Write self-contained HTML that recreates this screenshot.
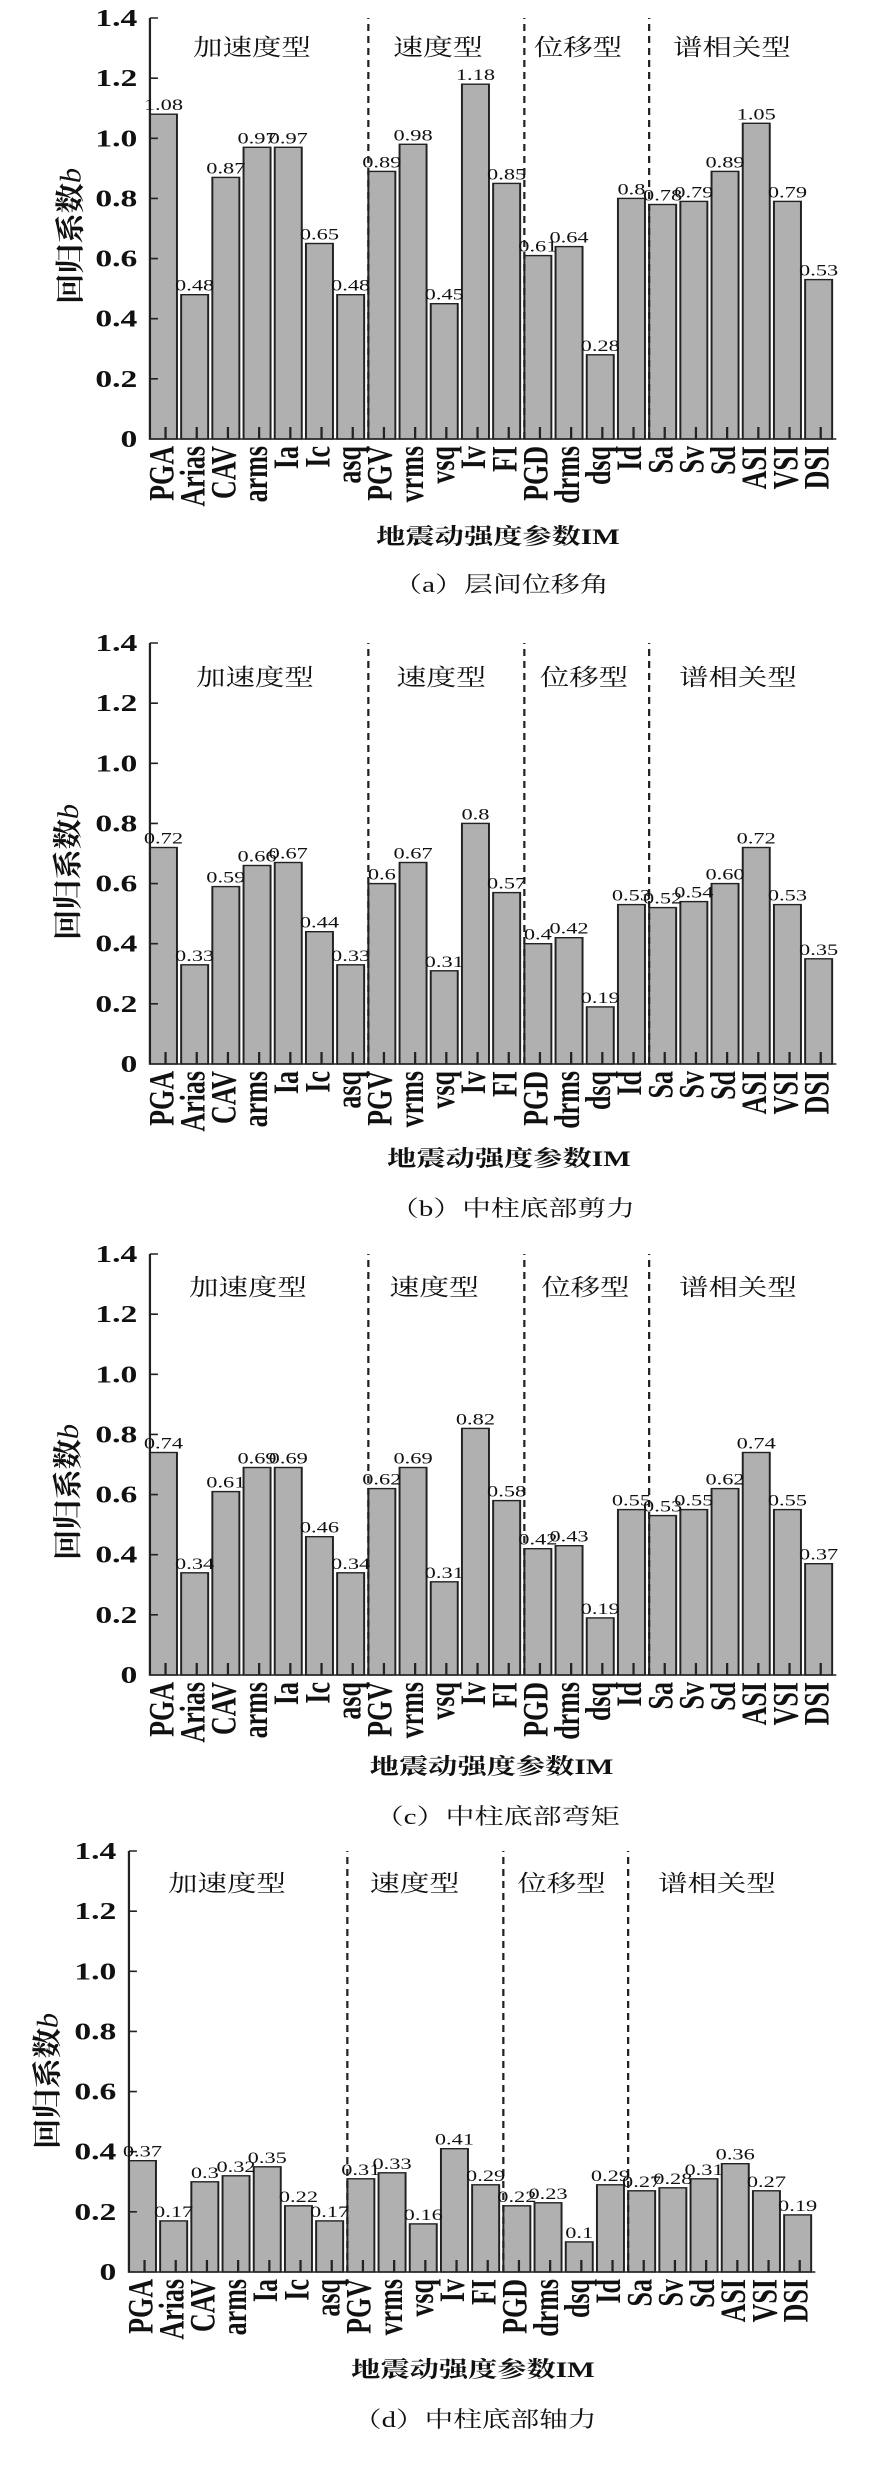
<!DOCTYPE html>
<html><head><meta charset="utf-8"><style>
html,body{margin:0;padding:0;background:#fff;}
svg{display:block;}
.t{font-family:"Liberation Serif",serif;font-size:24px;font-weight:bold;fill:#111;text-anchor:end;}
.v{font-family:"Liberation Serif",serif;font-size:16px;fill:#111;text-anchor:middle;}
.x{font-family:"Liberation Serif",serif;font-size:26px;font-weight:bold;fill:#111;text-anchor:end;}
.g{font-family:"Liberation Serif","Noto Serif CJK SC",serif;font-size:23px;fill:#111;text-anchor:middle;}
.yt{font-family:"Liberation Serif","Noto Serif CJK SC",serif;font-size:21px;font-weight:bold;fill:#111;text-anchor:middle;}
.xl{font-family:"Liberation Serif","Noto Serif CJK SC",serif;font-size:22px;font-weight:bold;fill:#111;text-anchor:middle;}
.cp{font-family:"Liberation Serif","Noto Serif CJK SC",serif;font-size:22px;fill:#111;text-anchor:middle;}
.b rect{fill:#b0b0b0;stroke:#222;stroke-width:1.4;}
.ax{stroke:#222;stroke-width:1.6;fill:none;}
.ds{stroke:#222;stroke-width:1.6;stroke-dasharray:7,5;fill:none;}
</style></head><body>
<svg width="870" height="2465" viewBox="0 0 621.43 2465" preserveAspectRatio="none" xmlns="http://www.w3.org/2000/svg">

<!-- Panel A -->
<g transform="translate(107.1,439)">
<g class="b">
<rect x="0" y="-324.8" width="19.3" height="324.8"/><rect x="22.29" y="-144.3" width="19.3" height="144.3"/><rect x="44.57" y="-261.6" width="19.3" height="261.6"/><rect x="66.86" y="-291.7" width="19.3" height="291.7"/><rect x="89.14" y="-291.7" width="19.3" height="291.7"/><rect x="111.43" y="-195.5" width="19.3" height="195.5"/><rect x="133.71" y="-144.3" width="19.3" height="144.3"/><rect x="156" y="-267.6" width="19.3" height="267.6"/><rect x="178.29" y="-294.7" width="19.3" height="294.7"/><rect x="200.57" y="-135.3" width="19.3" height="135.3"/><rect x="222.86" y="-354.8" width="19.3" height="354.8"/><rect x="245.14" y="-255.6" width="19.3" height="255.6"/><rect x="267.43" y="-183.4" width="19.3" height="183.4"/><rect x="289.71" y="-192.4" width="19.3" height="192.4"/><rect x="312" y="-84.2" width="19.3" height="84.2"/><rect x="334.29" y="-240.6" width="19.3" height="240.6"/><rect x="356.57" y="-234.5" width="19.3" height="234.5"/><rect x="378.86" y="-237.6" width="19.3" height="237.6"/><rect x="401.14" y="-267.6" width="19.3" height="267.6"/><rect x="423.43" y="-315.7" width="19.3" height="315.7"/><rect x="445.71" y="-237.6" width="19.3" height="237.6"/><rect x="468" y="-159.4" width="19.3" height="159.4"/>
</g>
<path class="ax" d="M0,-421V0H490.3 M0,-60.14h5.7M0,-120.29h5.7M0,-180.43h5.7M0,-240.57h5.7M0,-300.71h5.7M0,-360.86h5.7M0,-421h5.7 M11.14,0v-12M33.43,0v-12M55.71,0v-12M78,0v-12M100.29,0v-12M122.57,0v-12M144.86,0v-12M167.14,0v-12M189.43,0v-12M211.71,0v-12M234,0v-12M256.29,0v-12M278.57,0v-12M300.86,0v-12M323.14,0v-12M345.43,0v-12M367.71,0v-12M390,0v-12M412.29,0v-12M434.57,0v-12M456.86,0v-12M479.14,0v-12"/>
<path class="ds" d="M156,0V-421M267.43,0V-421M356.57,0V-421"/>
<text class="t" x="-9" y="8">0</text><text class="t" x="-9" y="-52.1">0.2</text><text class="t" x="-9" y="-112.3">0.4</text><text class="t" x="-9" y="-172.4">0.6</text><text class="t" x="-9" y="-232.6">0.8</text><text class="t" x="-9" y="-292.7">1.0</text><text class="t" x="-9" y="-352.9">1.2</text><text class="t" x="-9" y="-413">1.4</text>
<text class="v" x="9.65" y="-328.8">1.08</text><text class="v" x="31.94" y="-148.3">0.48</text><text class="v" x="54.22" y="-265.6">0.87</text><text class="v" x="76.51" y="-295.7">0.97</text><text class="v" x="98.79" y="-295.7">0.97</text><text class="v" x="121.08" y="-199.5">0.65</text><text class="v" x="143.36" y="-148.3">0.48</text><text class="v" x="165.65" y="-271.6">0.89</text><text class="v" x="187.94" y="-298.7">0.98</text><text class="v" x="210.22" y="-139.3">0.45</text><text class="v" x="232.51" y="-358.8">1.18</text><text class="v" x="254.79" y="-259.6">0.85</text><text class="v" x="277.08" y="-187.4">0.61</text><text class="v" x="299.36" y="-196.4">0.64</text><text class="v" x="321.65" y="-88.2">0.28</text><text class="v" x="343.94" y="-244.6">0.8</text><text class="v" x="366.22" y="-238.5">0.78</text><text class="v" x="388.51" y="-241.6">0.79</text><text class="v" x="410.79" y="-271.6">0.89</text><text class="v" x="433.08" y="-319.7">1.05</text><text class="v" x="455.36" y="-241.6">0.79</text><text class="v" x="477.65" y="-163.4">0.53</text>
<text class="x" transform="translate(16.7,7) rotate(-90)">PGA</text><text class="x" transform="translate(38.9,7) rotate(-90)">Arias</text><text class="x" transform="translate(61.2,7) rotate(-90)">CAV</text><text class="x" transform="translate(83.5,7) rotate(-90)">arms</text><text class="x" transform="translate(105.8,7) rotate(-90)">Ia</text><text class="x" transform="translate(128.1,7) rotate(-90)">Ic</text><text class="x" transform="translate(150.4,7) rotate(-90)">asq</text><text class="x" transform="translate(172.7,7) rotate(-90)">PGV</text><text class="x" transform="translate(194.9,7) rotate(-90)">vrms</text><text class="x" transform="translate(217.2,7) rotate(-90)">vsq</text><text class="x" transform="translate(239.5,7) rotate(-90)">Iv</text><text class="x" transform="translate(261.8,7) rotate(-90)">FI</text><text class="x" transform="translate(284.1,7) rotate(-90)">PGD</text><text class="x" transform="translate(306.4,7) rotate(-90)">drms</text><text class="x" transform="translate(328.7,7) rotate(-90)">dsq</text><text class="x" transform="translate(350.9,7) rotate(-90)">Id</text><text class="x" transform="translate(373.2,7) rotate(-90)">Sa</text><text class="x" transform="translate(395.5,7) rotate(-90)">Sv</text><text class="x" transform="translate(417.8,7) rotate(-90)">Sd</text><text class="x" transform="translate(440.1,7) rotate(-90)">ASI</text><text class="x" transform="translate(462.4,7) rotate(-90)">VSI</text><text class="x" transform="translate(484.7,7) rotate(-90)">DSI</text>
<text class="g" x="72.9" y="-384" textLength="84" lengthAdjust="spacingAndGlyphs">加速度型</text><text class="g" x="205.7" y="-384" textLength="64" lengthAdjust="spacingAndGlyphs">速度型</text><text class="g" x="305.7" y="-384" textLength="63" lengthAdjust="spacingAndGlyphs">位移型</text><text class="g" x="415.7" y="-384" textLength="84" lengthAdjust="spacingAndGlyphs">谱相关型</text>
<text class="yt" transform="translate(-49.5,-203) rotate(-90)" textLength="136" lengthAdjust="spacingAndGlyphs">回归系数<tspan font-style="italic" font-weight="normal">b</tspan></text>
<text class="xl" x="248.6" y="105" textLength="174" lengthAdjust="spacingAndGlyphs">地震动强度参数IM</text>
<text class="cp" x="250.7" y="153" textLength="154" lengthAdjust="spacingAndGlyphs">（a）层间位移角</text>
</g>

<!-- Panel B -->
<g transform="translate(107.1,1064)">
<g class="b">
<rect x="0" y="-216.5" width="19.3" height="216.5"/><rect x="22.29" y="-99.2" width="19.3" height="99.2"/><rect x="44.57" y="-177.4" width="19.3" height="177.4"/><rect x="66.86" y="-198.5" width="19.3" height="198.5"/><rect x="89.14" y="-201.5" width="19.3" height="201.5"/><rect x="111.43" y="-132.3" width="19.3" height="132.3"/><rect x="133.71" y="-99.2" width="19.3" height="99.2"/><rect x="156" y="-180.4" width="19.3" height="180.4"/><rect x="178.29" y="-201.5" width="19.3" height="201.5"/><rect x="200.57" y="-93.2" width="19.3" height="93.2"/><rect x="222.86" y="-240.6" width="19.3" height="240.6"/><rect x="245.14" y="-171.4" width="19.3" height="171.4"/><rect x="267.43" y="-120.3" width="19.3" height="120.3"/><rect x="289.71" y="-126.3" width="19.3" height="126.3"/><rect x="312" y="-57.1" width="19.3" height="57.1"/><rect x="334.29" y="-159.4" width="19.3" height="159.4"/><rect x="356.57" y="-156.4" width="19.3" height="156.4"/><rect x="378.86" y="-162.4" width="19.3" height="162.4"/><rect x="401.14" y="-180.4" width="19.3" height="180.4"/><rect x="423.43" y="-216.5" width="19.3" height="216.5"/><rect x="445.71" y="-159.4" width="19.3" height="159.4"/><rect x="468" y="-105.2" width="19.3" height="105.2"/>
</g>
<path class="ax" d="M0,-421V0H490.3 M0,-60.14h5.7M0,-120.29h5.7M0,-180.43h5.7M0,-240.57h5.7M0,-300.71h5.7M0,-360.86h5.7M0,-421h5.7 M11.14,0v-12M33.43,0v-12M55.71,0v-12M78,0v-12M100.29,0v-12M122.57,0v-12M144.86,0v-12M167.14,0v-12M189.43,0v-12M211.71,0v-12M234,0v-12M256.29,0v-12M278.57,0v-12M300.86,0v-12M323.14,0v-12M345.43,0v-12M367.71,0v-12M390,0v-12M412.29,0v-12M434.57,0v-12M456.86,0v-12M479.14,0v-12"/>
<path class="ds" d="M156,0V-421M267.43,0V-421M356.57,0V-421"/>
<text class="t" x="-9" y="8">0</text><text class="t" x="-9" y="-52.1">0.2</text><text class="t" x="-9" y="-112.3">0.4</text><text class="t" x="-9" y="-172.4">0.6</text><text class="t" x="-9" y="-232.6">0.8</text><text class="t" x="-9" y="-292.7">1.0</text><text class="t" x="-9" y="-352.9">1.2</text><text class="t" x="-9" y="-413">1.4</text>
<text class="v" x="9.65" y="-220.5">0.72</text><text class="v" x="31.94" y="-103.2">0.33</text><text class="v" x="54.22" y="-181.4">0.59</text><text class="v" x="76.51" y="-202.5">0.66</text><text class="v" x="98.79" y="-205.5">0.67</text><text class="v" x="121.08" y="-136.3">0.44</text><text class="v" x="143.36" y="-103.2">0.33</text><text class="v" x="165.65" y="-184.4">0.6</text><text class="v" x="187.94" y="-205.5">0.67</text><text class="v" x="210.22" y="-97.2">0.31</text><text class="v" x="232.51" y="-244.6">0.8</text><text class="v" x="254.79" y="-175.4">0.57</text><text class="v" x="277.08" y="-124.3">0.4</text><text class="v" x="299.36" y="-130.3">0.42</text><text class="v" x="321.65" y="-61.1">0.19</text><text class="v" x="343.94" y="-163.4">0.53</text><text class="v" x="366.22" y="-160.4">0.52</text><text class="v" x="388.51" y="-166.4">0.54</text><text class="v" x="410.79" y="-184.4">0.60</text><text class="v" x="433.08" y="-220.5">0.72</text><text class="v" x="455.36" y="-163.4">0.53</text><text class="v" x="477.65" y="-109.2">0.35</text>
<text class="x" transform="translate(16.7,7) rotate(-90)">PGA</text><text class="x" transform="translate(38.9,7) rotate(-90)">Arias</text><text class="x" transform="translate(61.2,7) rotate(-90)">CAV</text><text class="x" transform="translate(83.5,7) rotate(-90)">arms</text><text class="x" transform="translate(105.8,7) rotate(-90)">Ia</text><text class="x" transform="translate(128.1,7) rotate(-90)">Ic</text><text class="x" transform="translate(150.4,7) rotate(-90)">asq</text><text class="x" transform="translate(172.7,7) rotate(-90)">PGV</text><text class="x" transform="translate(194.9,7) rotate(-90)">vrms</text><text class="x" transform="translate(217.2,7) rotate(-90)">vsq</text><text class="x" transform="translate(239.5,7) rotate(-90)">Iv</text><text class="x" transform="translate(261.8,7) rotate(-90)">FI</text><text class="x" transform="translate(284.1,7) rotate(-90)">PGD</text><text class="x" transform="translate(306.4,7) rotate(-90)">drms</text><text class="x" transform="translate(328.7,7) rotate(-90)">dsq</text><text class="x" transform="translate(350.9,7) rotate(-90)">Id</text><text class="x" transform="translate(373.2,7) rotate(-90)">Sa</text><text class="x" transform="translate(395.5,7) rotate(-90)">Sv</text><text class="x" transform="translate(417.8,7) rotate(-90)">Sd</text><text class="x" transform="translate(440.1,7) rotate(-90)">ASI</text><text class="x" transform="translate(462.4,7) rotate(-90)">VSI</text><text class="x" transform="translate(484.7,7) rotate(-90)">DSI</text>
<text class="g" x="75" y="-379" textLength="84" lengthAdjust="spacingAndGlyphs">加速度型</text><text class="g" x="208" y="-379" textLength="64" lengthAdjust="spacingAndGlyphs">速度型</text><text class="g" x="310" y="-379" textLength="63" lengthAdjust="spacingAndGlyphs">位移型</text><text class="g" x="420" y="-379" textLength="84" lengthAdjust="spacingAndGlyphs">谱相关型</text>
<text class="yt" transform="translate(-51.5,-192) rotate(-90)" textLength="136" lengthAdjust="spacingAndGlyphs">回归系数<tspan font-style="italic" font-weight="normal">b</tspan></text>
<text class="xl" x="256.4" y="102" textLength="174" lengthAdjust="spacingAndGlyphs">地震动强度参数IM</text>
<text class="cp" x="259" y="152" textLength="175" lengthAdjust="spacingAndGlyphs">（b）中柱底部剪力</text>
</g>

<!-- Panel C -->
<g transform="translate(107.1,1675)">
<g class="b">
<rect x="0" y="-222.5" width="19.3" height="222.5"/><rect x="22.29" y="-102.2" width="19.3" height="102.2"/><rect x="44.57" y="-183.4" width="19.3" height="183.4"/><rect x="66.86" y="-207.5" width="19.3" height="207.5"/><rect x="89.14" y="-207.5" width="19.3" height="207.5"/><rect x="111.43" y="-138.3" width="19.3" height="138.3"/><rect x="133.71" y="-102.2" width="19.3" height="102.2"/><rect x="156" y="-186.4" width="19.3" height="186.4"/><rect x="178.29" y="-207.5" width="19.3" height="207.5"/><rect x="200.57" y="-93.2" width="19.3" height="93.2"/><rect x="222.86" y="-246.6" width="19.3" height="246.6"/><rect x="245.14" y="-174.4" width="19.3" height="174.4"/><rect x="267.43" y="-126.3" width="19.3" height="126.3"/><rect x="289.71" y="-129.3" width="19.3" height="129.3"/><rect x="312" y="-57.1" width="19.3" height="57.1"/><rect x="334.29" y="-165.4" width="19.3" height="165.4"/><rect x="356.57" y="-159.4" width="19.3" height="159.4"/><rect x="378.86" y="-165.4" width="19.3" height="165.4"/><rect x="401.14" y="-186.4" width="19.3" height="186.4"/><rect x="423.43" y="-222.5" width="19.3" height="222.5"/><rect x="445.71" y="-165.4" width="19.3" height="165.4"/><rect x="468" y="-111.3" width="19.3" height="111.3"/>
</g>
<path class="ax" d="M0,-421V0H490.3 M0,-60.14h5.7M0,-120.29h5.7M0,-180.43h5.7M0,-240.57h5.7M0,-300.71h5.7M0,-360.86h5.7M0,-421h5.7 M11.14,0v-12M33.43,0v-12M55.71,0v-12M78,0v-12M100.29,0v-12M122.57,0v-12M144.86,0v-12M167.14,0v-12M189.43,0v-12M211.71,0v-12M234,0v-12M256.29,0v-12M278.57,0v-12M300.86,0v-12M323.14,0v-12M345.43,0v-12M367.71,0v-12M390,0v-12M412.29,0v-12M434.57,0v-12M456.86,0v-12M479.14,0v-12"/>
<path class="ds" d="M156,0V-421M267.43,0V-421M356.57,0V-421"/>
<text class="t" x="-9" y="8">0</text><text class="t" x="-9" y="-52.1">0.2</text><text class="t" x="-9" y="-112.3">0.4</text><text class="t" x="-9" y="-172.4">0.6</text><text class="t" x="-9" y="-232.6">0.8</text><text class="t" x="-9" y="-292.7">1.0</text><text class="t" x="-9" y="-352.9">1.2</text><text class="t" x="-9" y="-413">1.4</text>
<text class="v" x="9.65" y="-226.5">0.74</text><text class="v" x="31.94" y="-106.2">0.34</text><text class="v" x="54.22" y="-187.4">0.61</text><text class="v" x="76.51" y="-211.5">0.69</text><text class="v" x="98.79" y="-211.5">0.69</text><text class="v" x="121.08" y="-142.3">0.46</text><text class="v" x="143.36" y="-106.2">0.34</text><text class="v" x="165.65" y="-190.4">0.62</text><text class="v" x="187.94" y="-211.5">0.69</text><text class="v" x="210.22" y="-97.2">0.31</text><text class="v" x="232.51" y="-250.6">0.82</text><text class="v" x="254.79" y="-178.4">0.58</text><text class="v" x="277.08" y="-130.3">0.42</text><text class="v" x="299.36" y="-133.3">0.43</text><text class="v" x="321.65" y="-61.1">0.19</text><text class="v" x="343.94" y="-169.4">0.55</text><text class="v" x="366.22" y="-163.4">0.53</text><text class="v" x="388.51" y="-169.4">0.55</text><text class="v" x="410.79" y="-190.4">0.62</text><text class="v" x="433.08" y="-226.5">0.74</text><text class="v" x="455.36" y="-169.4">0.55</text><text class="v" x="477.65" y="-115.3">0.37</text>
<text class="x" transform="translate(16.7,7) rotate(-90)">PGA</text><text class="x" transform="translate(38.9,7) rotate(-90)">Arias</text><text class="x" transform="translate(61.2,7) rotate(-90)">CAV</text><text class="x" transform="translate(83.5,7) rotate(-90)">arms</text><text class="x" transform="translate(105.8,7) rotate(-90)">Ia</text><text class="x" transform="translate(128.1,7) rotate(-90)">Ic</text><text class="x" transform="translate(150.4,7) rotate(-90)">asq</text><text class="x" transform="translate(172.7,7) rotate(-90)">PGV</text><text class="x" transform="translate(194.9,7) rotate(-90)">vrms</text><text class="x" transform="translate(217.2,7) rotate(-90)">vsq</text><text class="x" transform="translate(239.5,7) rotate(-90)">Iv</text><text class="x" transform="translate(261.8,7) rotate(-90)">FI</text><text class="x" transform="translate(284.1,7) rotate(-90)">PGD</text><text class="x" transform="translate(306.4,7) rotate(-90)">drms</text><text class="x" transform="translate(328.7,7) rotate(-90)">dsq</text><text class="x" transform="translate(350.9,7) rotate(-90)">Id</text><text class="x" transform="translate(373.2,7) rotate(-90)">Sa</text><text class="x" transform="translate(395.5,7) rotate(-90)">Sv</text><text class="x" transform="translate(417.8,7) rotate(-90)">Sd</text><text class="x" transform="translate(440.1,7) rotate(-90)">ASI</text><text class="x" transform="translate(462.4,7) rotate(-90)">VSI</text><text class="x" transform="translate(484.7,7) rotate(-90)">DSI</text>
<text class="g" x="70" y="-380" textLength="84" lengthAdjust="spacingAndGlyphs">加速度型</text><text class="g" x="203" y="-380" textLength="64" lengthAdjust="spacingAndGlyphs">速度型</text><text class="g" x="311" y="-380" textLength="63" lengthAdjust="spacingAndGlyphs">位移型</text><text class="g" x="420" y="-380" textLength="84" lengthAdjust="spacingAndGlyphs">谱相关型</text>
<text class="yt" transform="translate(-51.5,-183) rotate(-90)" textLength="136" lengthAdjust="spacingAndGlyphs">回归系数<tspan font-style="italic" font-weight="normal">b</tspan></text>
<text class="xl" x="244" y="99" textLength="174" lengthAdjust="spacingAndGlyphs">地震动强度参数IM</text>
<text class="cp" x="248" y="149" textLength="175" lengthAdjust="spacingAndGlyphs">（c）中柱底部弯矩</text>
</g>

<!-- Panel D -->
<g transform="translate(92.1,2272)">
<g class="b">
<rect x="0" y="-111.3" width="19.3" height="111.3"/><rect x="22.29" y="-51.1" width="19.3" height="51.1"/><rect x="44.57" y="-90.2" width="19.3" height="90.2"/><rect x="66.86" y="-96.2" width="19.3" height="96.2"/><rect x="89.14" y="-105.2" width="19.3" height="105.2"/><rect x="111.43" y="-66.2" width="19.3" height="66.2"/><rect x="133.71" y="-51.1" width="19.3" height="51.1"/><rect x="156" y="-93.2" width="19.3" height="93.2"/><rect x="178.29" y="-99.2" width="19.3" height="99.2"/><rect x="200.57" y="-48.1" width="19.3" height="48.1"/><rect x="222.86" y="-123.3" width="19.3" height="123.3"/><rect x="245.14" y="-87.2" width="19.3" height="87.2"/><rect x="267.43" y="-66.2" width="19.3" height="66.2"/><rect x="289.71" y="-69.2" width="19.3" height="69.2"/><rect x="312" y="-30.1" width="19.3" height="30.1"/><rect x="334.29" y="-87.2" width="19.3" height="87.2"/><rect x="356.57" y="-81.2" width="19.3" height="81.2"/><rect x="378.86" y="-84.2" width="19.3" height="84.2"/><rect x="401.14" y="-93.2" width="19.3" height="93.2"/><rect x="423.43" y="-108.3" width="19.3" height="108.3"/><rect x="445.71" y="-81.2" width="19.3" height="81.2"/><rect x="468" y="-57.1" width="19.3" height="57.1"/>
</g>
<path class="ax" d="M0,-421V0H490.3 M0,-60.14h5.7M0,-120.29h5.7M0,-180.43h5.7M0,-240.57h5.7M0,-300.71h5.7M0,-360.86h5.7M0,-421h5.7 M11.14,0v-12M33.43,0v-12M55.71,0v-12M78,0v-12M100.29,0v-12M122.57,0v-12M144.86,0v-12M167.14,0v-12M189.43,0v-12M211.71,0v-12M234,0v-12M256.29,0v-12M278.57,0v-12M300.86,0v-12M323.14,0v-12M345.43,0v-12M367.71,0v-12M390,0v-12M412.29,0v-12M434.57,0v-12M456.86,0v-12M479.14,0v-12"/>
<path class="ds" d="M156,0V-421M267.43,0V-421M356.57,0V-421"/>
<text class="t" x="-9" y="8">0</text><text class="t" x="-9" y="-52.1">0.2</text><text class="t" x="-9" y="-112.3">0.4</text><text class="t" x="-9" y="-172.4">0.6</text><text class="t" x="-9" y="-232.6">0.8</text><text class="t" x="-9" y="-292.7">1.0</text><text class="t" x="-9" y="-352.9">1.2</text><text class="t" x="-9" y="-413">1.4</text>
<text class="v" x="9.65" y="-115.3">0.37</text><text class="v" x="31.94" y="-55.1">0.17</text><text class="v" x="54.22" y="-94.2">0.3</text><text class="v" x="76.51" y="-100.2">0.32</text><text class="v" x="98.79" y="-109.2">0.35</text><text class="v" x="121.08" y="-70.2">0.22</text><text class="v" x="143.36" y="-55.1">0.17</text><text class="v" x="165.65" y="-97.2">0.31</text><text class="v" x="187.94" y="-103.2">0.33</text><text class="v" x="210.22" y="-52.1">0.16</text><text class="v" x="232.51" y="-127.3">0.41</text><text class="v" x="254.79" y="-91.2">0.29</text><text class="v" x="277.08" y="-70.2">0.22</text><text class="v" x="299.36" y="-73.2">0.23</text><text class="v" x="321.65" y="-34.1">0.1</text><text class="v" x="343.94" y="-91.2">0.29</text><text class="v" x="366.22" y="-85.2">0.27</text><text class="v" x="388.51" y="-88.2">0.28</text><text class="v" x="410.79" y="-97.2">0.31</text><text class="v" x="433.08" y="-112.3">0.36</text><text class="v" x="455.36" y="-85.2">0.27</text><text class="v" x="477.65" y="-61.1">0.19</text>
<text class="x" transform="translate(16.7,7) rotate(-90)">PGA</text><text class="x" transform="translate(38.9,7) rotate(-90)">Arias</text><text class="x" transform="translate(61.2,7) rotate(-90)">CAV</text><text class="x" transform="translate(83.5,7) rotate(-90)">arms</text><text class="x" transform="translate(105.8,7) rotate(-90)">Ia</text><text class="x" transform="translate(128.1,7) rotate(-90)">Ic</text><text class="x" transform="translate(150.4,7) rotate(-90)">asq</text><text class="x" transform="translate(172.7,7) rotate(-90)">PGV</text><text class="x" transform="translate(194.9,7) rotate(-90)">vrms</text><text class="x" transform="translate(217.2,7) rotate(-90)">vsq</text><text class="x" transform="translate(239.5,7) rotate(-90)">Iv</text><text class="x" transform="translate(261.8,7) rotate(-90)">FI</text><text class="x" transform="translate(284.1,7) rotate(-90)">PGD</text><text class="x" transform="translate(306.4,7) rotate(-90)">drms</text><text class="x" transform="translate(328.7,7) rotate(-90)">dsq</text><text class="x" transform="translate(350.9,7) rotate(-90)">Id</text><text class="x" transform="translate(373.2,7) rotate(-90)">Sa</text><text class="x" transform="translate(395.5,7) rotate(-90)">Sv</text><text class="x" transform="translate(417.8,7) rotate(-90)">Sd</text><text class="x" transform="translate(440.1,7) rotate(-90)">ASI</text><text class="x" transform="translate(462.4,7) rotate(-90)">VSI</text><text class="x" transform="translate(484.7,7) rotate(-90)">DSI</text>
<text class="g" x="70" y="-381" textLength="84" lengthAdjust="spacingAndGlyphs">加速度型</text><text class="g" x="204" y="-381" textLength="64" lengthAdjust="spacingAndGlyphs">速度型</text><text class="g" x="309" y="-381" textLength="63" lengthAdjust="spacingAndGlyphs">位移型</text><text class="g" x="420" y="-381" textLength="84" lengthAdjust="spacingAndGlyphs">谱相关型</text>
<text class="yt" transform="translate(-51,-191) rotate(-90)" textLength="136" lengthAdjust="spacingAndGlyphs">回归系数<tspan font-style="italic" font-weight="normal">b</tspan></text>
<text class="xl" x="245.7" y="105" textLength="174" lengthAdjust="spacingAndGlyphs">地震动强度参数IM</text>
<text class="cp" x="247" y="155" textLength="174" lengthAdjust="spacingAndGlyphs">（d）中柱底部轴力</text>
</g>
</svg>
</body></html>
